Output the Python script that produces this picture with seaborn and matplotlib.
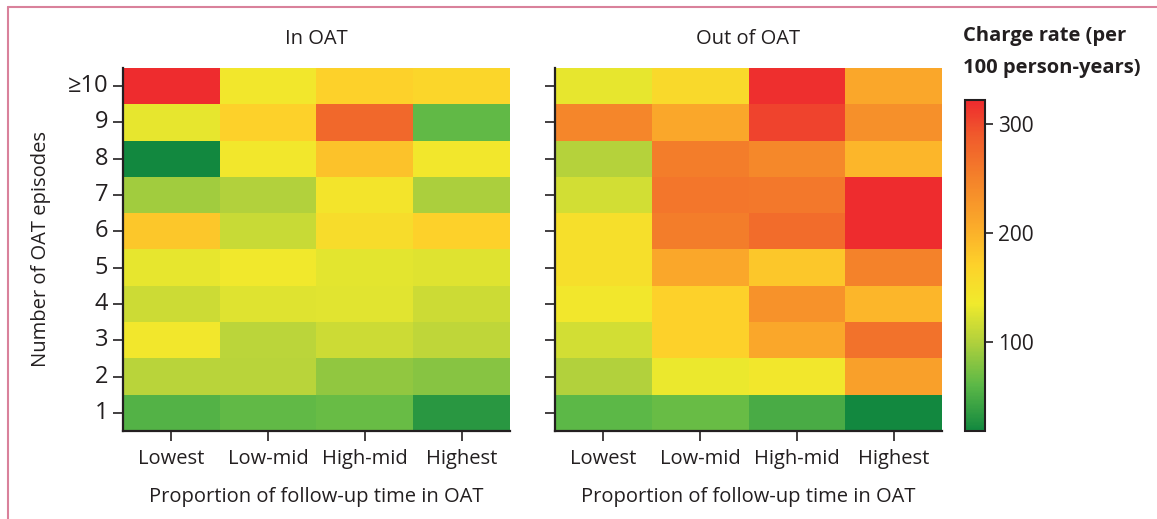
import numpy as np
import pandas as pd
import matplotlib
matplotlib.use("Agg")
import matplotlib.pyplot as plt
from matplotlib.colors import LinearSegmentedColormap
from matplotlib.lines import Line2D
import seaborn as sns
from matplotlib import font_manager

sns.set_style("white")
names = {f.name for f in font_manager.fontManager.ttflist}
main_font = "Liberation Sans Narrow" if "Liberation Sans Narrow" in names else "Open Sans"
plt.rcParams['font.family'] = [main_font, 'DejaVu Sans']

episodes = ["≥10", "9", "8", "7", "6", "5", "4", "3", "2", "1"]
proportions = ["Lowest", "Low-mid", "High-mid", "Highest"]
panel_titles = ["In OAT", "Out of OAT"]

in_oat = [
    [320, 140, 170, 165],
    [130, 170, 275, 62],
    [18, 140, 185, 140],
    [92, 100, 145, 97],
    [180, 112, 155, 170],
    [130, 138, 128, 125],
    [115, 125, 127, 115],
    [140, 105, 115, 108],
    [104, 104, 85, 80],
    [55, 62, 66, 32],
]
out_oat = [
    [130, 160, 318, 210],
    [245, 210, 305, 235],
    [102, 255, 243, 195],
    [118, 262, 260, 320],
    [150, 255, 272, 320],
    [150, 210, 180, 250],
    [140, 170, 232, 195],
    [118, 170, 210, 265],
    [100, 132, 140, 218],
    [60, 66, 50, 18],
]
vmin, vmax = 18, 322
cbar_ticks = [100, 200, 300]

stops = [(18, "#12883f"), (60, "#5cb847"), (100, "#b2d13c"), (135, "#f0ea2c"),
         (170, "#fdd22a"), (205, "#fbac2a"), (250, "#f4822a"), (290, "#f05a2c"), (322, "#ee2a2e")]
cmap = LinearSegmentedColormap.from_list(
    "charge", [((v - vmin) / (vmax - vmin), c) for v, c in stops])

fig = plt.figure(figsize=(11.57, 5.19), dpi=100)
ax1 = fig.add_axes([0.1063, 0.1696, 0.3345, 0.6994])
ax2 = fig.add_axes([0.4797, 0.1696, 0.3345, 0.6994])
cax = fig.add_axes([0.834, 0.1696, 0.0173, 0.638])

text_col = "#231f20"
for i, (ax, data) in enumerate(zip([ax1, ax2], [in_oat, out_oat])):
    df = pd.DataFrame(data, index=episodes, columns=proportions)
    sns.heatmap(df, ax=ax, cmap=cmap, vmin=vmin, vmax=vmax,
                cbar=(i == 0), cbar_ax=cax if i == 0 else None, linewidths=0)
    ax.set_title(panel_titles[i], fontsize=14.5, color=text_col, pad=17)
    ax.set_xlabel("Proportion of follow-up time in OAT", fontsize=14.5, color=text_col, labelpad=13)
    for s in ["left", "bottom"]:
        ax.spines[s].set_visible(True)
        ax.spines[s].set_color(text_col)
        ax.spines[s].set_linewidth(1.6)
    ax.tick_params(axis="both", which="both", direction="out", length=7, width=1.2,
                   color=text_col, left=True, bottom=True, labelcolor=text_col)
    ax.tick_params(axis="x", pad=6)
    ax.set_xticklabels(proportions, rotation=0, fontsize=14.5)
    if i == 0:
        ax.set_yticklabels(episodes, rotation=0, fontsize=17)
        ax.set_ylabel("Number of OAT episodes", fontsize=14.5, color=text_col, labelpad=12)
    else:
        ax.set_yticklabels([])
        ax.set_ylabel("")

cb = ax1.collections[0].colorbar
cb.set_ticks(cbar_ticks)
cb.ax.tick_params(labelsize=15, length=6, width=1.2, color=text_col, labelcolor=text_col)
cb.outline.set_visible(True)
cb.outline.set_edgecolor(text_col)
cb.outline.set_linewidth(1.5)

fig.text(0.832, 0.95, "Charge rate (per\n100 person-years)", fontsize=14.5,
         fontweight="bold", color=text_col, ha="left", va="top", linespacing=1.8)

# pink frame (top and left)
fig.add_artist(Line2D([0.007, 1.0], [0.986, 0.986], transform=fig.transFigure,
                      color="#d9819b", lw=1.5))
fig.add_artist(Line2D([0.007, 0.007], [0.0, 0.986], transform=fig.transFigure,
                      color="#d9819b", lw=1.5))

fig.savefig("out.png", dpi=100)
